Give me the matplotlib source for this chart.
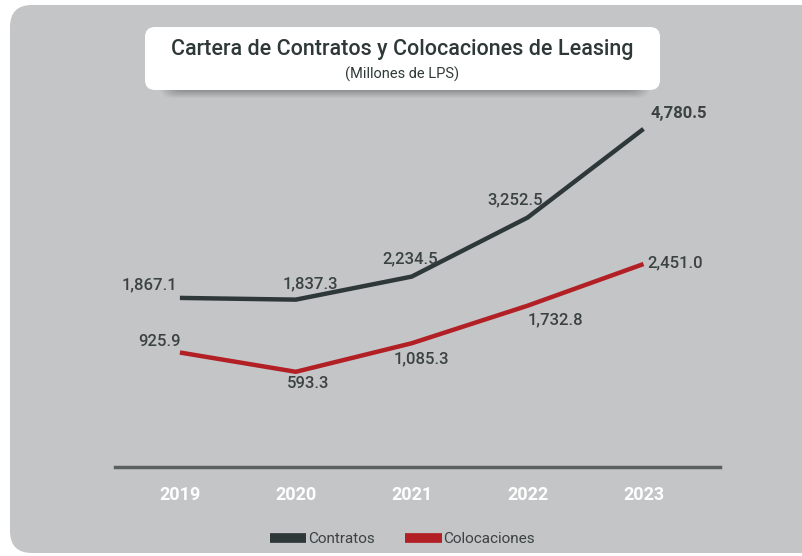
import matplotlib
matplotlib.use("Agg")
import matplotlib.pyplot as plt
from matplotlib.patches import FancyBboxPatch

years = ["2019", "2020", "2021", "2022", "2023"]
contratos = [1867.1, 1837.3, 2234.5, 3252.5, 4780.5]
colocaciones = [925.9, 593.3, 1085.3, 1732.8, 2451.0]
label_contratos = ["1,867.1", "1,837.3", "2,234.5", "3,252.5", "4,780.5"]
label_colocaciones = ["925.9", "593.3", "1,085.3", "1,732.8", "2,451.0"]

# label offsets in pixels (layout)
off_con = [(-30, 13), (15, 16), (-2, 18), (-12, 18), (35, 15)]
off_col = [(-20, 11), (12, -12), (10, -16), (28, -14), (32, 1)]

DARK = "#2f3838"
RED = "#b21f24"
GRAY_BG = "#c4c5c7"
TXT = "#3b4242"
FONT = "Roboto"

W, H = 803, 556
fig = plt.figure(figsize=(W / 100, H / 100), dpi=100)
fig.patch.set_facecolor("white")

# background layer in pixel coordinates
bg = fig.add_axes([0, 0, 1, 1])
bg.set_xlim(0, W)
bg.set_ylim(H, 0)
bg.axis("off")
bg.add_patch(FancyBboxPatch((10, 5), W + 40, H - 8, boxstyle="round,pad=0,rounding_size=22",
                            fc=GRAY_BG, ec="none"))
# soft shadow under title box
for i in range(16):
    bg.add_patch(FancyBboxPatch((160 + i * 1.0, 40 + i * 0.9), 490 - 2 * i, 58 - 1.5 * i,
                                boxstyle="round,pad=0,rounding_size=12",
                                fc="black", ec="none", alpha=0.018))
bg.add_patch(FancyBboxPatch((145, 27), 515, 63, boxstyle="round,pad=0,rounding_size=10",
                            fc="white", ec="none"))
bg.text(402, 50, "Cartera de Contratos y Colocaciones de Leasing", ha="center", va="center",
        fontsize=15.5, color=DARK, family=FONT, fontweight="medium")
bg.text(402, 74, "(Millones de LPS)", ha="center", va="center",
        fontsize=10.5, color=DARK, family=FONT)

# main plot axes
x0, x1 = 115, 720
ytop, ybot = 100, 467
ax = fig.add_axes([x0 / W, 1 - ybot / H, (x1 - x0) / W, (ybot - ytop) / H])
ax.set_facecolor("none")
xs = list(range(len(years)))
ax.plot(xs, contratos, color=DARK, lw=3.2, solid_capstyle="butt", label="Contratos")
ax.plot(xs, colocaciones, color=RED, lw=3.2, solid_capstyle="butt", label="Colocaciones")
ax.set_xlim(-0.56, 4.66)
ax.set_ylim(-1048, 5279)

for i in xs:
    ax.annotate(label_contratos[i], (xs[i], contratos[i]), xytext=off_con[i],
                textcoords="offset pixels", ha="center", va="center",
                fontsize=12, color=TXT, family=FONT,
                fontweight="bold" if i == 4 else "medium")
    ax.annotate(label_colocaciones[i], (xs[i], colocaciones[i]), xytext=off_col[i],
                textcoords="offset pixels", ha="center", va="center",
                fontsize=12, color=TXT, family=FONT, fontweight="medium")

for s in ["top", "right", "left"]:
    ax.spines[s].set_visible(False)
ax.spines["bottom"].set_color("#5a5f60")
ax.spines["bottom"].set_linewidth(2.5)
ax.set_yticks([])
ax.set_xticks(xs)
ax.set_xticklabels(years, fontsize=13, fontweight="bold", color="white", family=FONT)
ax.tick_params(axis="x", length=0, pad=14)

# legend
leg = ax.legend(loc="upper center", bbox_to_anchor=(0.475, -0.14), ncol=2, frameon=False,
                handlelength=2.4, handletextpad=0.1, columnspacing=2.0,
                prop={"family": FONT, "size": 11})
for t in leg.get_texts():
    t.set_color(TXT)
for l in leg.get_lines():
    l.set_linewidth(7)

fig.savefig("out.png", dpi=100)
